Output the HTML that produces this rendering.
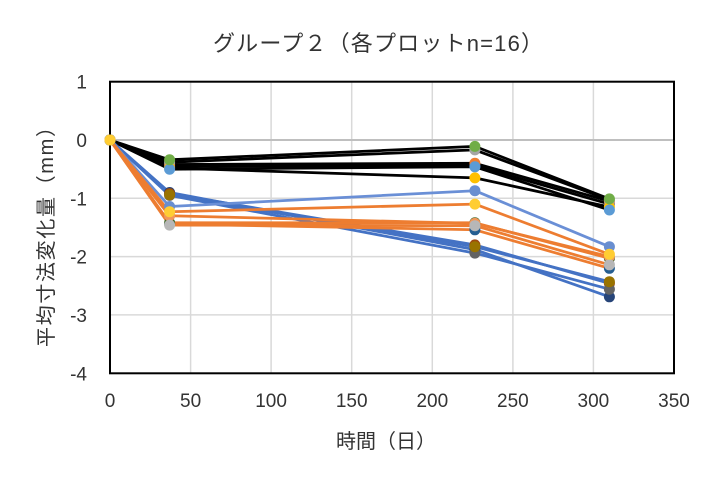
<!DOCTYPE html>
<html><head><meta charset="utf-8"><style>
html,body{margin:0;padding:0;background:#fff;}
svg{display:block;}
text{font-family:"Liberation Sans","Noto Sans CJK JP",sans-serif;fill:#333;}
</style></head><body>
<svg width="712" height="491" viewBox="0 0 712 491" xmlns="http://www.w3.org/2000/svg">
<rect x="0" y="0" width="712" height="491" fill="#fff"/>
<!-- gridlines -->
<g stroke="#D9D9D9" stroke-width="1.5">
<line x1="190.6" y1="81.7" x2="190.6" y2="373.3"/>
<line x1="271.1" y1="81.7" x2="271.1" y2="373.3"/>
<line x1="351.7" y1="81.7" x2="351.7" y2="373.3"/>
<line x1="432.3" y1="81.7" x2="432.3" y2="373.3"/>
<line x1="512.9" y1="81.7" x2="512.9" y2="373.3"/>
<line x1="593.4" y1="81.7" x2="593.4" y2="373.3"/>
<line x1="110" y1="198.3" x2="674" y2="198.3"/>
<line x1="110" y1="256.6" x2="674" y2="256.6"/>
<line x1="110" y1="314.9" x2="674" y2="314.9"/>
</g>
<line x1="110" y1="140" x2="674" y2="140" stroke="#BFBFBF" stroke-width="2"/>
<rect x="110" y="81.7" width="564" height="291.6" fill="none" stroke="#000" stroke-width="2"/>

<!-- lines -->
<g fill="none" stroke-width="2.75" stroke-linejoin="round">
<polyline stroke="#000" points="110,140 169.6,166.2 474.9,165.7 609.4,204.1"/>
<polyline stroke="#000" points="110,140 169.6,164.5 474.9,163.3 609.4,201.2"/>
<polyline stroke="#000" points="110,140 169.6,162.2 474.9,149.9 609.4,200.0"/>
<polyline stroke="#000" points="110,140 169.6,168.0 474.9,177.9 609.4,207.0"/>
<polyline stroke="#000" points="110,140 169.6,169.2 474.9,166.8 609.4,210.0"/>
<polyline stroke="#000" points="110,140 169.6,159.8 474.9,146.4 609.4,198.9"/>
<polyline stroke="#4472C4" points="110,140 169.6,192.5 474.9,249.6 609.4,296.8"/>
<polyline stroke="#4472C4" points="110,140 169.6,193.6 474.9,244.9 609.4,283.4"/>
<polyline stroke="#4472C4" points="110,140 169.6,195.4 474.9,253.1 609.4,289.2"/>
<polyline stroke="#4472C4" points="110,140 169.6,194.8 474.9,246.7 609.4,281.7"/>
<polyline stroke="#ED7D31" points="110,140 169.6,224.0 474.9,229.8 609.4,268.3"/>
<polyline stroke="#ED7D31" points="110,140 169.6,222.8 474.9,222.8 609.4,258.3"/>
<polyline stroke="#6A8FD6" points="110,140 169.6,206.5 474.9,190.7 609.4,246.7"/>
<polyline stroke="#ED7D31" points="110,140 169.6,215.8 474.9,223.4 609.4,256.6"/>
<polyline stroke="#ED7D31" points="110,140 169.6,225.1 474.9,225.7 609.4,264.8"/>
<polyline stroke="#ED7D31" points="110,140 169.6,211.7 474.9,204.1 609.4,254.3"/>
</g>

<!-- markers -->
<g>
<g fill="#4472C4"><circle cx="110" cy="140" r="5.5"/><circle cx="169.6" cy="166.2" r="5.5"/><circle cx="474.9" cy="165.7" r="5.5"/><circle cx="609.4" cy="204.1" r="5.5"/></g>
<g fill="#ED7D31"><circle cx="110" cy="140" r="5.5"/><circle cx="169.6" cy="164.5" r="5.5"/><circle cx="474.9" cy="163.3" r="5.5"/><circle cx="609.4" cy="201.2" r="5.5"/></g>
<g fill="#A5A5A5"><circle cx="110" cy="140" r="5.5"/><circle cx="169.6" cy="162.2" r="5.5"/><circle cx="474.9" cy="149.9" r="5.5"/><circle cx="609.4" cy="200.0" r="5.5"/></g>
<g fill="#FFC000"><circle cx="110" cy="140" r="5.5"/><circle cx="169.6" cy="168.0" r="5.5"/><circle cx="474.9" cy="177.9" r="5.5"/><circle cx="609.4" cy="207.0" r="5.5"/></g>
<g fill="#5B9BD5"><circle cx="110" cy="140" r="5.5"/><circle cx="169.6" cy="169.2" r="5.5"/><circle cx="474.9" cy="166.8" r="5.5"/><circle cx="609.4" cy="210.0" r="5.5"/></g>
<g fill="#70AD47"><circle cx="110" cy="140" r="5.5"/><circle cx="169.6" cy="159.8" r="5.5"/><circle cx="474.9" cy="146.4" r="5.5"/><circle cx="609.4" cy="198.9" r="5.5"/></g>
<g fill="#264478"><circle cx="110" cy="140" r="5.5"/><circle cx="169.6" cy="192.5" r="5.5"/><circle cx="474.9" cy="249.6" r="5.5"/><circle cx="609.4" cy="296.8" r="5.5"/></g>
<g fill="#9E480E"><circle cx="110" cy="140" r="5.5"/><circle cx="169.6" cy="193.6" r="5.5"/><circle cx="474.9" cy="244.9" r="5.5"/><circle cx="609.4" cy="283.4" r="5.5"/></g>
<g fill="#636363"><circle cx="110" cy="140" r="5.5"/><circle cx="169.6" cy="195.4" r="5.5"/><circle cx="474.9" cy="253.1" r="5.5"/><circle cx="609.4" cy="289.2" r="5.5"/></g>
<g fill="#997300"><circle cx="110" cy="140" r="5.5"/><circle cx="169.6" cy="194.8" r="5.5"/><circle cx="474.9" cy="246.7" r="5.5"/><circle cx="609.4" cy="281.7" r="5.5"/></g>
<g fill="#255E91"><circle cx="110" cy="140" r="5.5"/><circle cx="169.6" cy="224.0" r="5.5"/><circle cx="474.9" cy="229.8" r="5.5"/><circle cx="609.4" cy="268.3" r="5.5"/></g>
<g fill="#43682B"><circle cx="110" cy="140" r="5.5"/><circle cx="169.6" cy="222.8" r="5.5"/><circle cx="474.9" cy="222.8" r="5.5"/><circle cx="609.4" cy="258.3" r="5.5"/></g>
<g fill="#698ED0"><circle cx="110" cy="140" r="5.5"/><circle cx="169.6" cy="206.5" r="5.5"/><circle cx="474.9" cy="190.7" r="5.5"/><circle cx="609.4" cy="246.7" r="5.5"/></g>
<g fill="#F1975A"><circle cx="110" cy="140" r="5.5"/><circle cx="169.6" cy="215.8" r="5.5"/><circle cx="474.9" cy="223.4" r="5.5"/><circle cx="609.4" cy="256.6" r="5.5"/></g>
<g fill="#B7B7B7"><circle cx="110" cy="140" r="5.5"/><circle cx="169.6" cy="225.1" r="5.5"/><circle cx="474.9" cy="225.7" r="5.5"/><circle cx="609.4" cy="264.8" r="5.5"/></g>
<g fill="#FFCD33"><circle cx="110" cy="140" r="5.5"/><circle cx="169.6" cy="211.7" r="5.5"/><circle cx="474.9" cy="204.1" r="5.5"/><circle cx="609.4" cy="254.3" r="5.5"/></g>
</g>

<!-- title -->
<text x="378" y="51" font-size="22" text-anchor="middle" textLength="330" lengthAdjust="spacing">グループ２（各プロットn=16）</text>

<!-- y tick labels -->
<g font-size="19" text-anchor="end">
<text x="87" y="88.7">1</text>
<text x="87" y="147">0</text>
<text x="87" y="205.3">-1</text>
<text x="87" y="263.6">-2</text>
<text x="87" y="321.9">-3</text>
<text x="87" y="380.3">-4</text>
</g>
<!-- x tick labels -->
<g font-size="19" text-anchor="middle">
<text x="110" y="407">0</text>
<text x="190.6" y="407">50</text>
<text x="271.1" y="407">100</text>
<text x="351.7" y="407">150</text>
<text x="432.3" y="407">200</text>
<text x="512.9" y="407">250</text>
<text x="593.4" y="407">300</text>
<text x="674" y="407">350</text>
</g>
<!-- axis titles -->
<text x="386" y="448" font-size="20" text-anchor="middle">時間（日）</text>
<text transform="translate(53,232) rotate(-90)" x="0" y="0" font-size="20" text-anchor="middle" textLength="230" lengthAdjust="spacing">平均寸法変化量（mm）</text>
</svg>
</body></html>
